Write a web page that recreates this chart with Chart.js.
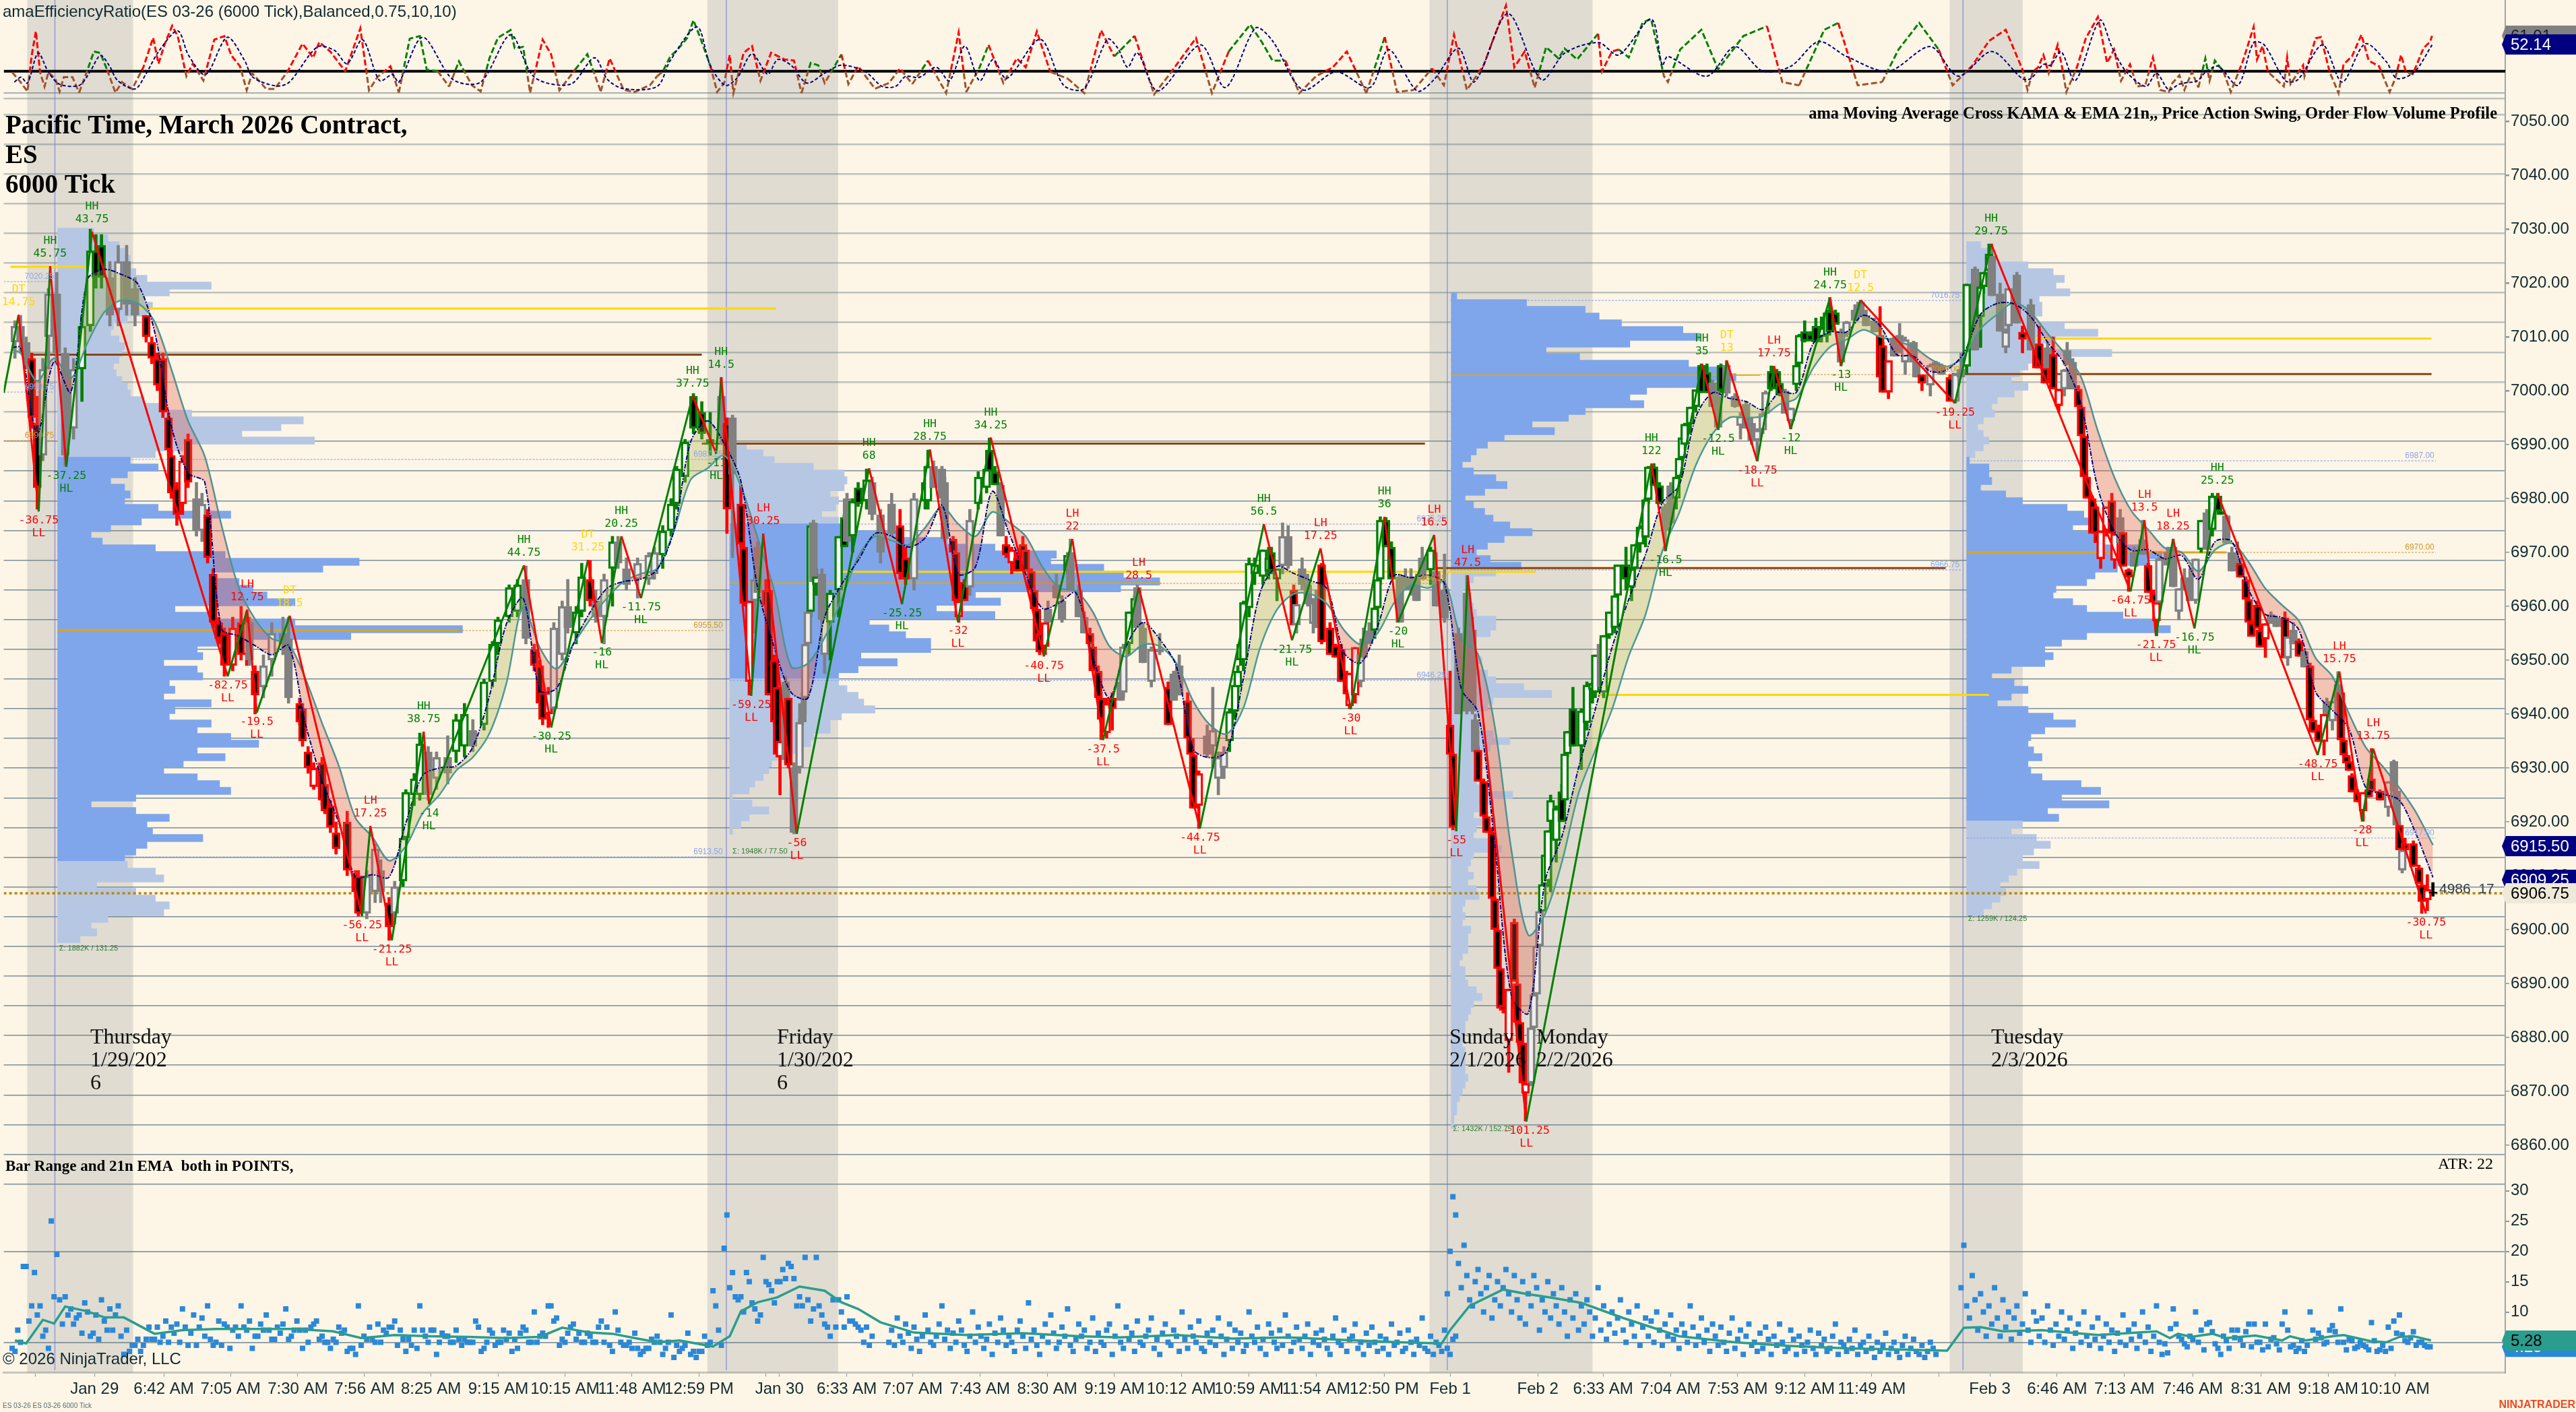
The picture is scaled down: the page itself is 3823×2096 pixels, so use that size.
<!DOCTYPE html>
<html>
<head>
<meta charset="utf-8">
<title>ES 03-26 6000 Tick</title>
<style>
html, body { margin: 0; padding: 0; background: #fdf5e6; }
canvas { display: block; }
</style>
<script src="https://cdn.jsdelivr.net/npm/chart.js@4"></script>
</head>
<body>
<canvas id="chart" width="3823" height="2096"></canvas>
<script>
// swing points, in chart bars and prices
const swingBars = [0,5.3,12.5,16.6,22.4,31.6,80.2,87.2,90.6,102.4,128.3,131.3,139,150.4,152.3,186.3,196.1,209.2,214.2,221.2,228.2,246.7,255.2,256.9,267.7,272,284,309.9,321.7,331.7,341.7,353.5,372.5,382.7,393.7,406.5,428.4,451.3,461.4,471.6,482.4,494.5,499.3,512.3,520.2,524.3,545.3,590.1,595.2,608.2,614,617.1,628,634,640,654.1,658,665,698.8,711.8,761.7,766.7,770.8,776.9,784.6,792.8,828.7,836.5,844.6,848.6,867.5];
const swingPrices = [6999.6,7014.1,6977.6,7023.1,6985.9,7029.5,6947,6959.4,6940.25,6958.25,6902.5,6919.25,6898,6936.75,6923.25,6967.6,6937.5,6968.6,6953.2,6973,6961.5,6999,6988.3,7002.5,6943.4,6973.5,6917.75,6985.6,6960.4,6989.1,6957.2,6991.3,6950.7,6972.5,6935.2,6963.45,6918.8,6975.25,6953.7,6970.75,6940.9,6976.6,6957,6973.25,6918.25,6965.75,6864.4,6986.5,6970.25,7005,6992.75,7005.6,6986.9,7004.6,6992.9,7017.3,7004.6,7016.8,6997.7,7027.25,6962.75,6976,6954.5,6972.5,6955.9,6981,6932.4,6947.9,6920.1,6933.6,6903];
const swingValues = ['','14.75','-36.75','45.75','-37.25','43.75','-82.75','12.75','-19.5','18.5','-56.25','17.25','-21.25','38.75','-14','44.75','-30.25','31.25','-16','20.25','-11.75','37.75','-11','14.5','-59.25','30.25','-56','68','-25.25','28.75','-32','34.25','-40.75','22','-37.5','28.5','-44.75','56.5','-21.75','17.25','-30','36','-20','16.5','-55','47.5','-101.25','122','-16.5','35','-12.5','13','-18.75','17.75','-12','24.75','-13','12.5','-19.25','29.75','-64.75','13.5','-21.75','18.25','-16.75','25.25','-48.75','15.75','-28','13.75','-30.75'];
const swingTags = ['','DT','LL','HH','HL','HH','LL','LH','LL','DT','LL','LH','LL','HH','HL','HH','HL','DT','HL','HH','HL','HH','HL','HH','LL','LH','LL','HH','HL','HH','LL','HH','LL','LH','LL','LH','LL','HH','HL','LH','LL','HH','HL','LH','LL','LH','LL','HH','HL','HH','HL','DT','LL','LH','HL','HH','HL','DT','LL','HH','LL','LH','LL','LH','HL','HH','LL','LH','LL','LH','LL'];

// candles: bar, open, high, low, close, trend (1 up, -1 down, 0 flat, 2 last)
const thuCandles = [[4,7009,7013,7006,7012,0],[6,7012,7014,7007,7009,0],[8,7009,7010,7004,7006,0],[10,7006,7007,6993,6995,-1],[12,6994,6999,6978,6982,-1],[14,6988,7006,6987,7004,0],[16,7010,7019,7004,7018,0],[19,7018,7022,7005,7007,0],[22,7007,7008,6986,6988,0],[25,6993,7006,6991,7004,0],[28,7004,7014,6998,7012,1],[31,7012,7030,7011,7026,1],[33,7026,7029,7019,7021,1],[35,7027,7029,7019,7021,1],[38,7021,7024,7012,7014,0],[41,7015,7027,7012,7024,0],[44,7024,7027,7014,7016,0],[47,7019,7021,7012,7014,0],[51,7014,7014,7009,7010,-1],[53,7009,7010,7005,7006,-1],[55,7006,7007,7000,7001,-1],[57,7006,7007,6995,6996,-1],[59,6995,6996,6988,6989,-1],[60,6988,6989,6980,6981,-1],[62,6982,6983,6975,6977,-1],[64,6979,6988,6977,6987,-1],[66,6991,6992,6982,6983,-1],[69,6980,6983,6973,6974,0],[71,6974,6981,6972,6979,0],[73,6977,6978,6968,6969,-1],[75,6966,6967,6956,6957,-1],[77,6957,6958,6953,6954,-1],[79,6955,6956,6947,6949,-1],[82,6949,6958,6948,6956,-1],[85,6957,6960,6950,6951,-1],[87,6951,6959,6949,6957,-1],[88,6957,6958,6949,6950,0],[90,6948,6949,6940,6943.5,-1],[93,6945,6951,6943,6949,0],[96,6950,6957,6947,6955,0],[100,6955,6958,6951,6953,0],[102,6954,6958,6942,6943,0],[106,6942,6943,6938,6938.5,-1],[107,6941,6942,6934,6935,-1],[109,6933,6934,6929,6930,-1],[111,6926.5,6931,6926,6930,-1],[114,6931,6932,6923,6924,-1],[115,6927,6928,6921.5,6922,-1],[117,6923,6924,6918,6919,-1],[119,6918,6920,6914,6915,-1],[123,6920,6922,6910,6911,-1],[126,6910.5,6911,6906,6907,-1],[127,6910,6911,6902.5,6903,-1],[130,6903,6911,6902,6910,0],[133,6907,6916,6905,6915,0],[135,6911,6913,6905,6907,0],[138,6905,6906,6898,6900.5,-1],[140,6903,6909,6901,6908,0],[143,6909,6917.5,6908,6917,1],[144,6917,6926,6916,6925.5,1],[147,6925,6929,6923,6928,1],[149,6925,6936.5,6924,6934.5,1],[152,6933,6934,6924,6925,0],[155,6928,6933,6926,6932,0],[159,6932,6936,6927,6929,0],[162,6933,6940,6931,6939,1],[165,6934,6942,6932,6940,1],[168,6937,6939,6933,6934,0],[172,6938,6946.5,6937,6946,1],[175,6946,6953.5,6945,6953,1],[177,6953,6958,6951,6957.5,1],[181,6958,6964,6957,6963.5,1],[184,6959,6965,6958,6964,1],[187,6965,6967.5,6953,6954,0],[190,6952,6953,6948,6949,-1],[192,6949,6950,6941,6942,-1],[193,6944,6945,6938,6939,-1],[195,6940,6945,6937.5,6944,-1],[197,6941,6957,6940,6956,0],[200,6951,6961,6950,6960,0],[202,6960,6965,6955,6956,0],[205,6955,6960,6953,6959,1],[207,6959,6968,6958,6965.5,1],[210,6965,6968.5,6960,6961,-1],[212,6961,6963,6957,6958,0],[215,6958,6966,6953,6965,0],[218,6967,6973,6960,6972,1],[220,6972,6973,6967,6968,0],[223,6967,6969,6963,6964,0],[227,6965,6969,6961.5,6968,0],[231,6965,6970,6964,6969.5,0],[233,6966,6971,6965,6970,0],[236,6969.5,6975,6967,6974,1],[239,6974,6980,6973,6979,1],[241,6979,6986,6978,6985.5,1],[244,6984,6991,6983,6990.5,1],[247,6999,6999.5,6992,6993,1],[250,6996,6998,6991,6992,1]];
const friCandles = [[253,6991,6996,6988,6990,1],[257,6999,7002.5,6990,6991,0],[259,6994,6995,6973.5,6978,-1],[261,6995,6995.5,6969,6984.5,0],[264,6979,6982.5,6971,6971.5,-1],[265,6971,6972,6960,6960.5,-1],[267,6946,6961,6943.5,6961,-1],[269,6961,6966,6955,6965,0],[270,6971,6972,6962,6962.5,0],[273,6963,6965,6959,6960,-1],[274,6963,6965,6943.5,6943.5,-1],[276,6950,6951,6938,6938.5,-1],[277,6945,6950,6932,6932.5,-1],[278,6932,6935,6925,6935,-1],[280,6946,6947,6931,6931.5,0],[281,6943,6944,6930,6930.5,-1],[283,6930,6931,6917.75,6918,0],[285,6930,6939,6929,6938.5,0],[286,6942,6944,6938,6938.5,0],[287,6943,6953,6940,6953,0],[288,6953,6959.5,6952,6959,0],[289,6959,6975.5,6958,6975,1],[290,6975.5,6976,6964,6964.5,0],[291,6964,6967,6962,6965.5,1],[293,6966,6967,6957,6957.5,0],[294,6951,6958,6947.5,6958,0],[296,6957,6963,6950,6962.5,1],[299,6963,6973,6958,6973,1],[301,6976.5,6977,6971,6971,1],[302,6980,6981,6971.5,6972,0],[304,6973,6980,6970,6979.5,1],[306,6982,6983,6978.5,6979,1],[309,6979.5,6985.5,6978,6983.5,1],[311,6983,6984,6976,6977,0],[314,6977,6978,6968,6970,0],[318,6979,6981,6973,6973.5,0],[321,6975,6978,6965,6966,-1],[323,6969,6971,6964,6965,-1],[326,6965,6981,6963,6980,0],[330,6979.5,6986,6978,6983,1],[331,6979.5,6989,6978,6986,1],[333,6986,6987,6982,6982,0],[336,6985.5,6986,6980,6980,0],[337,6983,6984,6972,6972.5,0],[340,6972.5,6973,6969.5,6970,-1],[341,6970,6971,6961,6961,-1],[342,6958,6961,6957,6961,-1],[344,6964.5,6965,6961,6961,-1],[346,6963.5,6978,6962,6976,0],[349,6979,6985,6978,6984,1],[352,6982,6986,6981,6985.5,1],[353,6989,6991.25,6985,6985,1],[355,6985,6986,6982.5,6982.5,1],[357,6982.5,6983,6973,6973,0],[359,6971.5,6973,6969,6969.5,-1],[361,6968,6971,6966,6970.5,-1],[363,6969,6970,6966.5,6966.5,-1],[365,6971.5,6973,6968,6968.5,-1],[366,6970.5,6971,6966.5,6966.5,-1],[368,6966.5,6967,6963,6963,-1],[369,6963,6964,6959.5,6959.5,-1],[370,6959.5,6960,6953.5,6953.5,-1],[371,6955,6956,6951,6951.5,-1],[373,6952.5,6957.5,6951,6957,-1],[374,6959.5,6961,6957,6957,0],[377,6964,6966,6961.5,6961.5,0],[379,6961,6962,6957,6957.5,0],[381,6966.6,6970,6966,6969.5,1],[382,6970,6972.5,6963,6963,0],[385,6963,6964,6958,6958,0],[387,6958,6959,6955,6955,0],[389,6955,6956,6953,6953,-1],[390,6952.5,6953,6948,6948,-1],[392,6948,6949,6943,6943,-1],[393,6943,6944,6935.25,6939,-1],[395,6936.5,6943,6935.5,6942,-1],[397,6943,6944,6937,6941,-1],[400,6946,6948,6942.5,6942.5,0],[401,6944,6953,6943,6952.5,0],[403,6953,6959,6951,6959,1],[405,6958,6962,6957,6961.5,1],[406,6963.5,6964,6956,6956,0],[408,6956,6957,6949.5,6949.5,0],[411,6946,6952.5,6945,6952,0],[414,6952,6955,6951,6951.5,0],[417,6945,6946,6938,6938,-1],[419,6947.5,6948,6942.5,6942.5,0],[421,6949,6951,6943.5,6943.5,0],[424,6942.5,6944,6935.5,6935.5,-1],[425,6935.5,6936,6932.5,6932.5,-1],[426,6932.5,6933,6922.5,6922.5,-1],[428,6923,6929.5,6918.75,6929,-1],[431,6936,6938,6932,6932.5,0],[433,6934,6945,6930,6937,0],[435,6928,6933,6925,6932,0],[437,6930,6934,6928,6933,0],[439,6935,6941,6933,6940.5,1],[441,6940.5,6946,6939,6945.4,1],[442,6945,6949,6944,6948,1],[443,6950,6953,6949,6953,1],[444,6950,6961,6948,6960.7,1],[446,6959.7,6969,6958,6968,1],[448,6966,6969,6964,6967.7,1],[451,6965.5,6970.5,6964,6970.5,1],[453,6966.5,6971,6965,6969,1],[454,6970,6971,6966,6966.5,1],[456,6965,6967,6961,6967,1],[458,6967.5,6975.5,6966,6973,0],[460,6973,6975,6967,6967.5,0],[462,6963,6964,6956.5,6956.5,-1],[463,6956.5,6961,6955,6960.4,0],[465,6967,6969,6963,6964,0],[467,6964,6966,6960,6960.4,0],[469,6956.8,6961.5,6955,6960.7,0],[470,6961,6963,6956,6956.8,0],[472,6967.7,6968,6953,6953.4,-1],[475,6956,6957,6951,6951,-1],[477,6952.7,6953,6950.5,6950.5,-1],[479,6952,6953,6946,6946,-1],[481,6947,6948,6943.7,6943.7,-1],[482,6941.5,6947.6,6941,6947.6,-1],[484,6943.5,6952.4,6942,6952.4,-1],[486,6946,6951,6945,6951,0],[487,6954,6956,6950.5,6950.5,0],[489,6955.5,6957,6953,6953,0],[491,6955.5,6960,6954,6959.7,1],[492,6959.7,6965,6958,6965,1],[493,6965,6976.6,6964,6976,1],[495,6976,6976.5,6971,6971,1],[497,6971,6972,6965,6965,1],[500,6965.5,6966,6957,6957,0],[502,6965.5,6967,6963,6964,0],[504,6965.5,6967,6962,6963,0],[506,6965,6966,6961,6961,0],[508,6969,6971,6965,6965,0],[511,6966.7,6971,6964,6970.5,1],[513,6966.5,6970,6960,6960,0],[514,6963,6966,6960,6960,0],[516,6963,6969.7,6957,6957.8,0]];
const sunCandles = [[518,6938,6948,6932,6932.5,-1],[519,6932.6,6933,6918.5,6919,-1],[521,6955,6956,6940,6940,0],[524,6962.5,6965.75,6940,6940.5,0],[526,6955.6,6958,6940,6940.5,0],[527,6939,6940,6932.6,6933,0],[528,6933.3,6934,6927.5,6927.5,-1],[530,6927.5,6928,6921,6921,-1],[531,6921,6922,6918,6918,-1],[533,6918,6919,6905.75,6905.75,-1],[534,6905.75,6906,6900,6900,-1],[535,6900,6901,6892.8,6892.8,-1],[536,6892.8,6893,6885.4,6885.4,-1],[537,6886,6887,6884.5,6885,-1],[539,6879.4,6889,6873.5,6889,-1],[541,6901.4,6902,6890.4,6890.4,-1],[542,6890,6891,6882.8,6882.8,-1],[543,6882.8,6883,6879,6879,-1],[544,6879,6879.5,6871.5,6871.5,-1],[545,6869.6,6871.5,6864.5,6871.5,-1],[547,6871.5,6882,6871,6881.8,0],[548,6881.8,6888,6881,6888,0],[549,6888,6897,6887,6897,0],[550,6897,6903.4,6896,6903.4,0],[551,6903.4,6908.4,6903,6908.4,1],[552,6908.4,6913.9,6908,6913.9,1],[553,6909,6918.4,6908,6918.4,1],[554,6920,6925,6907,6924,1],[556,6916.5,6923,6912.5,6922.5,1],[558,6925.6,6927,6920,6920,1],[559,6924,6932.6,6923,6932.6,1],[560,6932.6,6936.8,6932,6936.8,1],[562,6941,6945,6934,6934,1],[565,6934,6941,6929.7,6940.6,1],[567,6938.4,6946,6937,6945.4,1],[569,6944.5,6946,6942,6945.7,1],[570,6944,6951,6943,6951,1],[572,6953,6954,6945,6945,0],[573,6944,6954.6,6943,6954.6,1],[575,6954.6,6959,6954,6959,1],[577,6956,6962,6955,6962,1],[578,6962,6967.7,6961,6967.7,1],[581,6967.7,6971,6963,6965,1],[583,6963.5,6967,6961,6967,1],[584,6967,6971.5,6965,6971.5,1],[586,6971.5,6975,6970,6974.7,1],[588,6972.8,6979.8,6971,6979.8,1],[589,6979.8,6986,6979,6985.9,1],[591,6985.9,6986.5,6982.4,6982.4,1],[593,6982.4,6983,6979,6979,1],[595,6978.5,6979,6970.25,6974,0],[597,6982.4,6983,6975,6975.4,0],[599,6980,6984,6978,6984,1],[600,6984,6987.5,6982,6987.5,1],[601,6987.5,6991,6986,6991.3,1],[602,6990,6994,6989,6993.8,1],[604,6993.8,6997,6992,6997,1],[606,6997,7000.2,6996,7000.2,1],[608,7004.7,7005,6999.6,6999.6,1],[610,7003.4,7005,6999.6,6999.6,1],[612,7001.5,7002,6997,6997,0],[614,6999,7000,6992.75,6993.2,0],[615,7004.7,7005,6999.6,7000,1],[617,7004.75,7005.6,6999,6999.5,0],[620,6999,6999.5,6996.9,6997,0],[622,6993.5,6996,6991,6995.3,0],[624,6997.5,6998,6993,6993,0],[626,6994,6995,6990,6990.8,0],[628,6990.8,6993,6987,6992.7,0],[630,6992.7,6996,6992,6995.8,0],[631,6995.8,7000,6995,6999.7,0],[633,7003.6,7004.6,7000,7000.3,1],[635,7003.6,7004,7000.3,7000.3,1],[636,7001.4,7002,6999,6999.2,1],[638,7000,7000.3,6995.8,6995.8,0],[640,6994.4,6996.8,6992.9,6996.8,0],[642,7001.1,7006.7,7000,7004.75,1],[643,7005,7010.5,7004,7010.3,1],[645,7011,7013,7009,7009.2,1],[647,7010.6,7011,7009.2,7009.2,1],[649,7012,7013.5,7009,7009,1],[651,7010,7013.7,7009,7011.7,1],[653,7010.3,7015,7009,7014.5,1],[654,7014.8,7017.3,7011,7010.9,1],[656,7014.5,7015,7012.3,7012.3,1],[658,7011,7011.5,7004.6,7005.3,0],[660,7010.4,7012.9,7010,7012.8,0],[663,7015,7016,7013,7013,0],[665,7016.5,7016.8,7013.7,7013.7,0],[667,7014,7015,7012,7012,0],[670,7013,7013.5,7010.9,7010.9,0],[672,7010.3,7015.6,7002.5,7002.5,-1],[673,7008.4,7009,6999.7,6999.7,-1],[675,6999.7,7005.6,6998.5,7005.6,-1],[677,7009.8,7010,7006.4,7006.4,0],[679,7010.3,7012.5,7007,7007,0],[681,7005.3,7010,7003,7009.5,0],[684,7009,7009.2,7005.3,7005.3,0],[685,7005.3,7005.5,7002.5,7002.5,0],[687,7003,7003,7000,7001.4,-1],[690,7001,7005,6999,7004.75,0],[692,7005.3,7005.5,7003.6,7003.6,0],[694,7004.75,7005,7003,7003,0],[697,7002.5,7003,6998,6998,-1],[699,6998,7003.2,6997.7,7003.1,0]];
const tueCandles = [[701,7004,7007,7002.5,7002.5,0],[703,7004.5,7019.8,7003,7019.8,1],[706,7022.6,7023,7007.5,7007.5,0],[708,7013.7,7020,7008,7019.3,1],[709,7019.3,7022,7018,7022,1],[711,7022.3,7027.25,7021,7025.4,1],[712,7025,7027.25,7017.6,7017.6,0],[715,7018,7020,7011,7011,0],[717,7008,7011.5,7007,7011,0],[718,7012,7019,7011,7019,0],[721,7021.5,7022,7012.5,7012.5,0],[723,7010.9,7012,7007,7009.5,-1],[726,7016,7017,7007.5,7007.5,0],[728,7007.5,7008,7004.2,7004.2,-1],[729,7008.7,7012,7004.2,7004.2,-1],[731,7004.2,7005,7001.4,7001.4,-1],[732,7008,7009,7004.2,7004.2,0],[734,7006.7,7010,7000.3,7000.3,-1],[736,6997.2,7000.3,6996,7000.3,-1],[738,7000.3,7004,6999,7003.9,0],[739,7007.5,7009,7004.75,7004.75,0],[741,7005.3,7006,7000.3,7000.3,0],[743,7000.3,7001,6997,6997,-1],[744,6997,6997.5,6991.6,6991.6,-1],[745,6991.6,6992,6984,6984,-1],[746,6984,6984.5,6980,6980,-1],[748,6980,6980.5,6973.5,6973.5,-1],[749,6978.5,6979,6973.5,6973.5,-1],[750,6973.5,6974,6971.8,6971.8,-1],[751,6968.8,6974,6967,6974,-1],[753,6974,6978.5,6973,6978.5,-1],[755,6979.6,6981,6973.5,6973.5,-1],[756,6968.5,6973.5,6967,6973.5,-1],[758,6976.5,6978,6971.8,6971.8,0],[759,6973.7,6974,6967.4,6967.4,-1],[761,6966.8,6967,6962.75,6965.4,-1],[763,6970,6971,6967.4,6967.4,0],[766,6972.4,6976,6969.6,6969.6,0],[768,6967.6,6968,6962.5,6962.5,-1],[770,6962.5,6963,6960.7,6960.7,-1],[771,6957.3,6960.7,6954.5,6960.7,-1],[772,6960.7,6969,6960,6968.8,0],[775,6970,6971,6967.6,6967.6,0],[777,6971,6972.5,6963.6,6963.6,0],[779,6959,6963.3,6957.5,6963.3,0],[781,6965.3,6967,6963,6963,0],[783,6965.3,6967,6961,6961,0],[785,6961,6968.8,6960.5,6968.8,0],[787,6970.5,6976,6970,6976,1],[789,6977.4,6978,6970.5,6970.5,0],[791,6974.2,6981,6973,6980.5,1],[793,6980.5,6981,6977.6,6977.6,1],[794,6977.6,6978,6977,6977,1],[796,6976.8,6977,6971.7,6971.7,0],[798,6970,6971,6966.5,6966.5,0],[800,6968.8,6972,6966,6966.5,0],[801,6968,6969,6965.4,6965.4,-1],[803,6965,6965.5,6961.3,6961.3,-1],[804,6961.3,6962,6957,6957,-1],[805,6957,6957.5,6954.4,6954.4,-1],[807,6960.2,6961,6955.9,6955.9,-1],[808,6955.6,6956,6952.4,6952.4,-1],[810,6953.9,6956.8,6950.5,6956.8,-1],[812,6958.5,6959,6956.8,6956.8,0],[814,6957.9,6958,6956.2,6956.2,0],[817,6957.9,6959,6950.4,6950.4,-1],[818,6950.4,6954.4,6949,6954.4,0],[820,6955.6,6957,6953,6953,0],[822,6953.6,6954,6950.7,6950.7,-1],[824,6951.6,6952,6948.7,6948.7,0],[826,6949,6949.5,6938.9,6938.9,-1],[827,6938.9,6939.5,6936.6,6936.6,-1],[829,6937.2,6938,6934.9,6934.9,-1],[831,6934.9,6940,6932.4,6940,-1],[832,6942.1,6943,6940,6940,0],[834,6938.7,6942.4,6937,6942.4,0],[836,6945.5,6947.9,6942.4,6942.4,0],[837,6944,6945,6935.2,6935.2,-1],[838,6935.2,6935.5,6932.4,6932.4,-1],[839,6932.4,6933,6930.9,6930.9,-1],[840,6931.2,6932,6929.5,6929.5,-1],[841,6928.6,6929,6925.5,6925.5,-1],[843,6925.5,6926,6923.7,6923.7,-1],[845,6922,6925.5,6920.1,6925.5,-1],[847,6926,6926.5,6924.6,6924.6,-1],[848,6928,6933.6,6925.7,6925.7,-1],[851,6925.7,6926,6924,6924,-1],[854,6922.6,6927.5,6921,6927.5,0],[856,6931.2,6931.5,6925.7,6925.7,0],[857,6925.7,6926,6919.4,6919.4,0],[858,6919.4,6920,6914.8,6914.8,-1],[859,6911,6914.8,6910.5,6914.8,0],[860,6916,6917,6914.8,6914.8,-1],[863,6916,6916.5,6911.7,6911.7,-1],[865,6911.5,6912,6908.5,6908.5,-1],[866,6908.3,6908.5,6903,6905.2,-1],[868,6905.5,6910.2,6903.5,6907.5,-1],[870,6907,6908.75,6906.2,6906.75,2]];

// moving averages on the price panel
const maBars = [3,6,12,18,24,30,36,42,48,54,60,66,72,78,84,90,96,102,108,114,120,126,132,138,144,150,156,162,168,174,180,186,192,198,204,210,216,222,228,234,240,246,252,258,264,270,276,282,288,294,300,306,312,318,324,330,336,342,348,354,360,366,372,378,384,390,396,402,408,414,420,426,432,438,444,450,456,462,468,474,480,486,492,498,504,510,516,522,528,534,540,546,552,558,564,570,576,582,588,594,600,606,612,618,624,630,636,642,648,654,660,666,672,678,684,690,696,702,708,714,720,726,732,738,744,750,756,762,768,774,780,786,792,798,804,810,816,822,828,834,840,846,852,858,864,870];
const emaValues = [7007.6,7007,7001.8,7006,7002.3,7008.9,7014.6,7016.8,7016.3,7012.8,7004,6994.4,6987.8,6975,6963.7,6957.6,6954,6953,6946.6,6938.3,6930.4,6920.7,6917.2,6912.8,6915.5,6921.6,6925,6929.5,6932,6936.5,6945.7,6960,6952.3,6948.4,6953,6957.6,6961.5,6964.6,6966,6967,6974,6983.5,6985.6,6988,6982.25,6972.7,6962.8,6948.8,6949.4,6954.2,6961.2,6969.2,6973,6972.2,6971.4,6974.6,6978.4,6975.2,6973,6977.5,6975.6,6973,6967.3,6963.4,6962.8,6959,6952.6,6950.7,6952.9,6952.6,6949.4,6942.4,6938,6936.3,6941.2,6952.4,6959.4,6962.3,6962.3,6960.4,6955.6,6952.9,6955,6960.7,6964,6963.4,6964.5,6954,6951.1,6937.7,6914.6,6899,6902.9,6912.5,6925.3,6933.3,6940.9,6950.8,6958.5,6970.25,6977.3,6986.2,6992,6995,6995,6995.3,6997.5,6998.6,7004.2,7008.1,7009.5,7011.3,7010,7009.2,7008.1,7005.9,7004.5,7006.4,7011.5,7014.2,7016.4,7014.5,7010.6,7007,7002.5,6992.5,6983.8,6977.7,6974.25,6970.8,6970,6966.5,6970.5,6971.7,6968.2,6963.3,6960.2,6957.3,6950.4,6947,6940,6933.8,6930.3,6926.3,6921.7,6915.7];
const kamaValues = [7008,7008,6992,7005.4,6999.7,7020.7,7022.5,7021.6,7019.8,7011,6993.5,6984.75,6983,6955.8,6954.5,6952.7,6951,6952.7,6938.3,6927.7,6919.8,6909.75,6910.2,6909.75,6919.8,6928.6,6930,6930.4,6933.9,6943.5,6956.7,6961.5,6944.4,6944.8,6953,6958.9,6963.3,6964.6,6965,6966.8,6974,6990.5,6994.4,6990.2,6983.2,6963.4,6952.3,6944,6943,6958,6964,6968.5,6973.5,6973,6971,6972.7,6978.75,6966,6967.3,6981.3,6973.6,6966,6959.6,6960.6,6962.5,6950.7,6943,6952.6,6957,6953.9,6948.8,6933.5,6931.9,6933.1,6946.7,6962.6,6967.4,6966.1,6964.8,6963.2,6951.4,6949.5,6956.2,6965.7,6965.3,6965.8,6964.2,6944.7,6940.3,6915.8,6887.6,6884.5,6909,6917.2,6930,6940.9,6952.4,6961.3,6969.6,6979.2,6982.4,6995.1,6999.6,6998.6,6998,6996.5,6999.7,6999.7,7008.7,7010.9,7010.9,7014,7012,7006.7,7006.4,7003.6,7003.9,7007,7014.2,7016.2,7016.1,7013.7,7009,7005,6997.5,6981.9,6973.8,6970.4,6970.5,6968.8,6969.4,6965,6972,6972,6963,6958.5,6957.9,6955.6,6944.1,6940.7,6937.2,6926.3,6925.2,6924,6917.7,6909.7];

// volume profile lengths, one row per 1.25 points from the top price down
const thuProfile = [13,18,22,24,26,26,28,32,55,40,31,34,32,25,20,19,22,24,23,22,20,21,23,25,26,31,37,48,88,80,66,92,45,35,26,36,25,19,24,26,24,36,62,30,19,12,16,35,60,108,95,55,65,70,75,85,42,55,85,145,105,58,50,52,38,50,52,40,42,38,55,42,40,55,50,62,72,50,60,45,38,50,58,62,28,12,28,40,32,34,52,32,28,24,25,35,38,14,28,35,40,38,18,12,14,8];
const friProfile = [6,12,16,30,41,42,41,36,39,38,33,39,44,60,78,95,117,115,134,141,154,140,88,97,74,95,50,57,63,72,72,47,60,46,39,39,42,46,48,52,40,36,36,30,29,24,18,15,14,12,9,7,1,8,14,7,4,1];
const sunProfile = [2,27,48,53,61,83,89,64,34,46,85,96,102,93,70,64,69,48,42,29,37,19,13,9,7,4,8,16,20,12,5,8,12,15,21,29,19,13,9,14,25,16,8,5,4,5,8,9,16,16,14,9,8,9,11,9,13,16,26,36,15,13,10,8,9,15,21,14,9,8,8,8,9,11,22,15,10,8,11,9,8,14,18,8,7,6,8,6,9,10,5,4,5,4,7,6,6,6,4,3,5,5,6,9,11,8,7,6,5,5,4,4,5,5,5,5,6,5,4,3,2,2,1,1];
const tueProfile = [5,8,11,22,31,35,32,37,26,27,27,23,35,47,32,26,52,30,22,19,16,22,17,11,9,10,6,4,6,8,6,3,1,8,8,9,5,14,20,36,42,45,38,46,47,65,70,65,54,46,43,32,31,38,43,56,67,73,43,34,28,31,28,16,9,17,22,16,11,22,31,39,28,23,22,24,27,22,23,27,41,48,34,51,29,33,20,16,25,30,24,20,26,18,15,12,14,12,9,6];
const profileStartBars = [19.3, 260, 518.4, 703];
const profileTopPrices = [7029.5, 6989.6, 7017.5, 7027];
const valueHighs = [6987.4, 6975.2, 7017.5, 6987.2];
const valueLows = [6913.25, 6946.2, 6967, 6920];

// horizontal levels: start bar, end bar, price
const goldLevels = [[2.4,31.6,7023],[47.2,276.6,7015.25],[300,548.7,6966.4],[571,711,6943.55],[723.5,869.5,7009.7]];
const brownLevels = [[6.5,250,7006.7],[250,509,6990.2],[509.6,695.5,6967.1],[697.7,869.5,7003.1]];
const pocLevels = [[19.3,163,6955.6],[260,414.4,6964.3],[518.4,629,7002.9],[703,796,6970]];
const valueLevels = [[0,18,7020.25],[0,18,6999.75],[19.3,258,6987.25],[19.3,258,6913.5],[260,517,6975.25],[260,517,6946.25],[518,701,7016.75],[518,701,6966.75],[703,871,6987],[703,871,6917]];
const pocThinLevels = [[0,18,6990.75],[163,258,6955.5],[414,517,6964.25],[629,701,7003],[796,871,6970]];
const levelTexts = [[18,7020.25,'7020.25'],[18,6999.75,'6999.75'],[257.5,6987.25,'6987.25'],[257.5,6913.5,'6913.50'],[516.5,6975.25,'6975.25'],[516.5,6946.25,'6946.25'],[700.5,7016.75,'7016.75'],[700.5,6966.75,'6966.75'],[870.5,6987,'6987.00'],[870.5,6917,'6917.00']];
const pocTexts = [[18,6990.75,'6990.75'],[257.5,6955.5,'6955.50'],[516.5,6964.25,'6964.25'],[700.5,7003,'7003.00'],[870.5,6970,'6970.00']];
const sigmaTexts = [[19.8,6896.5,'Σ: 1882K / 131.25'],[261,6914.5,'Σ: 1948K / 77.50'],[519,6863,'Σ: 1432K / 152.75'],[703.5,6902,'Σ: 1259K / 124.25']];

// efficiency ratio panel: bar, value
const erFast = [[3,24],[6,14],[8.5,4.5],[10,41],[11.5,65.5],[13,24],[14.6,9.4],[16,24],[18.5,17],[20,4.5],[21.5,19],[24.6,19],[27,3.3],[30,26.5],[32.3,45],[34.6,43.5],[37,26.5],[40,3.3],[42.3,14],[46,7],[50,29],[53.5,59],[55.4,32.6],[57.7,53],[60.3,71],[62.3,60.6],[65.4,20],[67.7,32.6],[71.5,15.5],[75.4,57],[79,60.6],[81.5,41],[84.6,30],[87,5.7],[89,23],[94,7],[97,7],[101.5,24],[107,53],[110.8,38.7],[113,54.5],[117,44.7],[122.3,25],[127.7,68.4],[130.8,5.7],[133.8,19],[138.5,30],[141.5,3.3],[145.4,58],[149,60.6],[151.5,26.5],[155.4,25],[159.5,9.4],[163,35],[167.7,10.6],[170.8,4.5],[174,38.7],[177,59],[181.5,66.7],[183,48.4],[186,49.6],[188.5,3.3],[193,57],[196,42.3],[199,5.7],[204.6,26.5],[209,42.3],[213.8,4.5],[217,38],[222,6],[226,4],[231.5,11],[234,20],[236,24.5],[238.7,40],[241,46],[244.7,58.5],[247,76.7],[249.5,58.5],[253,31],[255.5,4],[258,13],[260,41.5],[261.3,2.8],[265,43.7],[268,50.5],[271,15.3],[274.8,43.7],[279.6,37],[283,35.8],[285.7,2.8],[289,33.5],[291.7,31],[294,13],[300,42],[302.5,12],[306,30],[312,7.3],[317,13],[321,27.8],[325.4,12],[331,35.8],[337.5,2.8],[342,64.2],[344.7,3.9],[349.5,29],[352.7,51.7],[358,13],[362.8,38],[366,29],[370,65.3],[374.8,24.4],[381,17.6],[387,2.8],[393,66.5],[397.7,40],[405,60.8],[412,1.6],[417,20],[427,58.5],[432.7,2.8],[438.7,45],[446.4,72.2],[450.7,54],[454.4,35.8],[459,35.8],[464,2.8],[470,20],[476,29],[481,45],[488,2.8],[494.6,59.7],[499,3.9],[505,6],[511.5,27.8],[515.8,10.7],[519.4,62],[524,6],[530,31],[538,91.5],[541,29],[544.7,45],[548.3,8.5],[552.4,49.4],[556.8,38],[559,48],[563.5,37],[571,63],[572.4,24.8],[576,45],[578.4,47],[582,39],[587,74.4],[590,77.9],[594.6,20],[596,14],[600.4,47],[608,67],[614,27],[623,60.6],[631.5,70.6],[637,14],[643,10.7],[652,67],[657,74],[664,10.7],[672.7,14],[678.6,47],[686,74],[693,47],[698,10.7],[705,30.6],[711,55.6],[717,67],[723,26.7],[724.8,6],[726.7,24.4],[728.6,29],[730.5,41.5],[732.4,23],[735.6,51.7],[737.5,24.4],[738.7,3.9],[742.5,29],[745.7,58.5],[750,80],[753.3,33.5],[755.8,47],[758.3,15.3],[761.5,32],[764,9.6],[767,10.8],[769.7,39],[772.3,6],[775.4,3.9],[776.7,13],[779.2,21],[781,6],[783.7,24.4],[786,8.5],[788.5,38],[790,15.3],[791.9,35.8],[795,24.4],[797.6,3.9],[802,35.8],[805.8,70],[807,36.9],[809,50.5],[810.9,24.4],[816.6,9.6],[817.8,39],[819,12],[823.5,31.2],[824,20],[828,58.5],[829.9,59.7],[831.8,38],[833,24.4],[836.2,2.8],[838,32],[841,40],[844.4,62],[847,35.8],[850.7,30],[854.5,3.9],[856.5,17.6],[858.6,41.5],[860.3,24.4],[862.8,22],[866.6,48.3],[869,55],[869.7,60.8]];
const erSlow = [[3.8,14],[6.2,19],[8.5,13],[12.3,43.5],[16,24],[20,11.8],[27,10.6],[30.8,24],[34.6,41],[37.7,31],[40.8,15.5],[47,7],[50.8,21.6],[55.4,44.7],[62.3,66],[66.2,41],[72.3,21.6],[80,59.4],[86.2,36.2],[89.2,19],[97.7,10],[102.3,14],[112.3,49.6],[118.5,46],[123,32.6],[128.5,57],[134.6,15.5],[139.2,21.6],[141.5,14],[150,59.4],[160.8,16.7],[170.8,14],[181.5,61.8],[190,19],[203,11.8],[211.5,38.7],[216.2,16.7],[222,7.3],[234,9.6],[238.7,35.8],[248.3,69.9],[253,31],[258.4,10.7],[262.8,18.7],[268,42.6],[273.6,22],[277.2,36.9],[282,31],[287.6,13],[294,23],[300,31.2],[308.6,24.4],[314.6,9.6],[319.4,9.6],[323,19.8],[327.8,18.7],[334,29],[338.7,15.3],[344.2,50.5],[349.5,15.3],[354.3,36.9],[359.2,17.6],[371.2,57.4],[379.6,10.7],[386.9,7.3],[395.3,57.4],[399,48.3],[402.5,29],[406,43.7],[413.4,5],[428.6,51.7],[437.5,8.5],[448.3,68.8],[454.3,56.2],[465.2,6.2],[477.2,24.4],[489.3,8.5],[496,47],[506.2,5],[512.2,16.4],[521,48.3],[526.7,14.2],[538.7,83.5],[550.7,16.4],[559.2,43.7],[571.2,54],[578.4,41.5],[590,77.9],[594,31],[596,40],[610,20],[620,50],[630,25],[640,30],[650,55],[660,40],[675,25],[690,50],[700,20],[712,45],[722.9,17.6],[726,17.6],[730.5,32],[733,31],[736.8,44.9],[741.9,15.3],[750.7,76.7],[755.2,48.3],[760.2,24.4],[767.2,9.6],[771,23],[775.4,6.2],[779.2,12],[785.6,15.3],[788.7,24.4],[793.2,30],[800.1,10.7],[805.8,54],[809.6,51.7],[817.2,15.3],[821.6,16.4],[830.5,51.7],[837.5,14],[845.7,52.8],[853.3,34.6],[857.1,17.6],[863.4,24.4],[869.7,51.7]];
const erGreenRanges = [[30,37],[142,157],[163,175],[174,189],[205,215],[236,253],[288,301],[330,335],[349,356],[380,382],[401,406],[440,459],[489,498],[510,513],[550,572],[582,615],[620,636],[650,660],[675,693],[787,796]];
const erBaseLine = 25;

// bar range panel: one value per bar from the start bar of each list
const rangeStartBars = [3, 317, 517, 701, 771];
const rangeThuFri = [4,3.5,7,5,17.5,17.5,8.5,11,16.5,9.5,11,6,7,4,25,12.5,19.5,12,8,12.5,9.5,10.5,8,9,9.5,6.5,11.5,10,6,6.5,9.5,5.5,12,8.5,7,10.5,7,9.5,11,6,3,7,3.5,4.5,4.5,5.5,3.5,4.5,5.5,7.5,5.5,5.5,7.5,5,6,8.5,5,7.5,6.5,8,5,10.5,7.5,4.5,6.5,9.5,4.5,7.5,9,6,11,5.5,4.5,5,8.5,4.5,8,7.5,4,7,7.5,6,11,7.5,7,8.5,4,6,6,8,7,9.5,7,5.5,5.5,7.5,6.5,8,10.5,5.5,6,7,8.5,7,4,7,5,7.5,8,8.5,5.5,6,5,5,4,5.5,5,7.5,6.5,7,3.5,4,4,3,11,4.5,6,5.5,7.5,5.5,5,8,5,7,6.5,7.5,7.5,8.5,4.5,7,5.5,3.5,5.5,4.5,7,4,11,7,6,5,7,7,3,5,6.5,6,6,5,5,7,5.5,4.5,5.5,5,5,5,8.5,7.5,3.5,4,5,7,6.5,4.5,5,5,7,5.5,6.5,3.5,5.5,4,6.5,7.5,7,5,5,10,5,6,6.5,6,11,11,8.5,9,4.5,5.5,5,6.5,7.5,8,5.5,6.5,5,5,6.5,6,5,5,7.5,8.5,5,7.5,4.5,3.5,10,7,5,4.5,4.5,5,4,6.5,4,3,3.5,4,4,5.5,5,6,5,3,4,5,9.5,2.5,4.5,3.5,4,4.5,6.5,3,3.5,2.5,3.5,3.5,6,4.5,5,13.5,11,7,4.5,20.5,26,14,16.5,12.5,12,12.5,10,16.5,15,11.5,10.5,8.5,9.5,19,15,14.5,13.5,11.5,15,15,17,15.5,18,17.5,15.5,11,12.5,11,19,12,8.5,10.5,19,11,9.5,8,7.5,6,12,7.5,12,10,7.5,12.5,8.5,8.5,8,7.5,7,5,7.5,4.5,6];
const rangeFri = [5,7,4.5,9,6,5,8,6.5,4,7.5,5.5,3.5,6,9.5,7,5,4.5,6,8,11,5.5,7,4,6.5,5,8.5,7,4.5,3.5,6,10,5,7.5,6,4,5.5,8,3,6.5,5,9,7,4.5,6,5,3.5,7,8.5,6,4,11.5,5.5,7,4.5,3,6,8,5,9.5,6.5,4,5,7.5,6,10.5,4.5,3.5,5.5,8,6,7,4,5,9,3.5,6.5,5,4.5,7,8,3,6,11,5,4,7.5,5.5,6.5,3.5,8.5,5,4.5,6,7,9,4,5.5,3,6.5,8,5,4.5,7,6,3.5,10,5.5,4,7.5,6,5,8.5,4,3.5,6.5,5,7,4.5,9,6,3,5.5,8,4,7,5,6.5,3.5,4.5,10,6,5,7.5,4,5.5,3,8,6.5,5,4,7,4.5,9.5,6,3.5,5,7.5,5.5,4,6,8,3,5,6.5,4.5,7,5.5,4,3,6,9,5,4.5,7,3.5,5.5,6,8,4,5,3,6.5,4.5,7.5,5,3.5,6,4,5.5,3,8,4.5,5,6.5,3.5,4,7,5,3,5.5,4.5,9,4,3.5,6,3,5,4.5,3.5,7,4,3,5.5,6];
const rangeSunMon = [13,20,29,26,18,14,21,16,12,11,15,17,13,10,14,16,9,12,15,11,14,17,13,10,16,12,9,15,8,13,11,16,14,7,12,10,15,9,13,11,8,14,10,6,12,9,13,7,11,8,12,10,6,9,14,7,11,5.5,8,10,6.5,9,12,7,5,10,8,6,11,4.5,7.5,9,6,8.5,5,10,7,4.5,8,6,9.5,5.5,7,4,8,6.5,5,11,7.5,4.5,6,9,5,7,3.5,8,6,4.5,7.5,5,3.5,6.5,9,4,5.5,7,3,6,8,4.5,5,3.5,6.5,4,7.5,5.5,3,6,4.5,8,5,3.5,4,7,5.5,3,6,4.5,3.5,5,7,4,3,6.5,4.5,5.5,3.5,4,6,8,3,5,4.5,3.5,5.5,4,7,3,4.5,5,3.5,6,4,2.5,5,3.5,4.5,6.5,3,4,5,3.5,2.5,4.5,6,3,4,5.5,3.5,3,4.5,2.5,3.5,5,4,3];
const rangeTue = [14,21,11,9,16,12,7,13,10,6,11,8,14,9,6,12,7.5,10,5.5,9,11,6.5,8,13,7,5,10,8.5,6,9,5,11,7,4.5,8,6,10,5.5,7,9,4,6.5,8,5,10,6,4.5,7.5,5.5,9,4,6,8,5,7,3.5,6.5,5,9.5,4.5,7,5.5,8,4,6,10,5,7.5,3.5,6];
const rangeTueLate = [11,5,3,4.75,3.25,7.25,10.5,8,6,5.5,4.75,4.25,6,5.5,10,5,7,3.75,8,8.25,6.75,4.75,4,3,6,5.25,4,7,5.75,7,5.5,4.5,6.75,8,4.25,8,5,5,3.75,8,4.25,5.5,5.75,4.75,3.75,8,10,7,4.25,4.5,3.5,4,5.25,3.5,4.5,10,7,5.5,6.5,5.75,4.75,5,7,7.75,6.75,5,10.5,5,3.75,5.5,5.25,4,4.25,5,4.5,4.25,3.75,8.25,5.25,3.5,3.75,4.5,3.5,7.5,4,8.5,6.5,9.5,6.25,5.25,5,5.75,6.75,4.5,5,5,4.5,4.25,4.25];
const rangeEmaBars = [4,8,14,18,22,30,36,43,54,64,76,90,104,118,128,140,152,166,180,192,200,210,218,226,234,242,254,260,264,270,277,285,294,300,306,314,326,345,365,385,400,420,440,460,480,500,515,518,525,537,545,555,565,580,590,600,620,640,660,680,696,702,708,716,730,750,771,775.8,778.7,783.4,791,796,806.4,816,818.8,824.6,834,838,847.6,853.3,858,863,869.3];
const rangeEmaValues = [5.3,4.8,8.7,8.1,10.9,10.1,9.1,9.1,6.4,7,7.2,7.2,7.2,6.8,5.7,6.2,6,5.9,5.7,5.9,7.4,6.6,6.4,5.7,5,5.3,4.3,6,10.1,11.6,12.4,14.2,13.5,11.6,10.5,8.3,6.6,6.2,6.5,6,5.8,6.2,5.6,5.8,5.4,5,4.8,7,11,13.7,13,12.3,11.5,9,7.5,6,5,4.4,4,3.8,3.6,7.4,7.5,6.8,7,6.2,6.8,5.7,6.4,5.9,6.4,5.7,6.1,5.3,6,5.3,6,6.2,5.2,5,5.9,6,5.3];

// axis ticks
const xTickBars = [11.3,32.5,57.3,81.2,105.3,129.2,153,177.1,201,225,249,273,277.8,301.9,325.5,349.6,373.7,397.8,421.7,446,470,494.4,518,549.4,572.8,596.9,621,645,669,693,711.3,735.4,759.5,784,808.4,832.5,856.4];
const xTickLabels = ['','Jan 29','6:42 AM','7:05 AM','7:30 AM','7:56 AM','8:25 AM','9:15 AM','10:15 AM','11:48 AM','12:59 PM','','Jan 30','6:33 AM','7:07 AM','7:43 AM','8:30 AM','9:19 AM','10:12 AM','10:59 AM','11:54 AM','12:50 PM','Feb 1','Feb 2','6:33 AM','7:04 AM','7:53 AM','9:12 AM','11:49 AM','','Feb 3','6:46 AM','7:13 AM','7:46 AM','8:31 AM','9:18 AM','10:10 AM'];
const priceLabels = [7050,7040,7030,7020,7010,7000,6990,6980,6970,6960,6950,6940,6930,6920,6910,6900,6890,6880,6870,6860];
const rangeLabels = [30,25,20,15,10,5];
const rangeGrid = [20,5];
const sessionBandStarts = [8.4,252,510.6,696.9];
const sessionBandEnds = [46.3,298.8,569,723.1];
const sessionLines = [18.3,258.8,517,701.7];

// price tags on the right edge, drawn in this order
const erTags = [[61.01,'#808080','#202020'],[52.14,'#000080','#ffffff']];
const priceTags = [[6915.5,'#000080','#ffffff'],[6909.25,'#000080','#ffffff'],[6906.75,'#efe9d9','#000000']];
const rangeTags = [[4.25,'#2b88d8','#ffffff'],[5.28,'#2a9d8f','#000000']];
const lastPrice = 6906.75;

const AXIS_X = 3718;
const PLOT_BOTTOM = 2037.5;
const ER_BOTTOM = 146;
const PRICE_BOTTOM = 1760;
const BAR_MAX = AXIS_X / 4.15;
const SANS = '"Liberation Sans", Arial, sans-serif';
const SERIF = '"Liberation Serif", "Times New Roman", serif';
const MONO = '"DejaVu Sans Mono", monospace';

// price gridlines sit 5.51 points apart and do not line up with the labels
const priceGrid = [7054.25];
for (let i = 0; i < 37; i++) {
    priceGrid.push(7051.25 - i * 5.5125);
}

const toneColors = { '1': '#008000', '-1': '#ff0000', '0': '#808080', '2': '#000000' };
const candles = [...thuCandles, ...friCandles, ...sunCandles, ...tueCandles];
const isGreenBar = (bar) => erGreenRanges.some(([from, to]) => bar >= from && bar <= to);

const levelDataset = (level, color, width, dash, order) => ({
    type: 'line',
    yAxisID: 'yPrice',
    data: [{ x: level[0], y: level[2] }, { x: level[1], y: level[2] }],
    borderColor: color,
    borderWidth: width,
    borderDash: dash,
    pointRadius: 0,
    order,
});

const profileDataset = (lengths, index) => ({
    type: 'bar',
    indexAxis: 'y',
    xAxisID: 'x',
    yAxisID: 'yPrice',
    grouped: false,
    barThickness: 11,
    borderWidth: 0,
    order: 20,
    data: lengths.map((length, row) => ({
        x: [profileStartBars[index], profileStartBars[index] + length],
        y: profileTopPrices[index] - row * 1.25,
    })),
    backgroundColor: lengths.map((length, row) => {
        const price = profileTopPrices[index] - row * 1.25;
        return price <= valueHighs[index] && price >= valueLows[index] ? '#7fa6ea' : '#b6c7e4';
    }),
});

// the fast line turns brown below the base line, split by a hard gradient stop
const gradients = {};
const erColor = (chart, color) => {
    if (!gradients[color]) {
        const scale = chart.scales.yER;
        const stop = scale.getPixelForValue(erBaseLine) / ER_BOTTOM;
        const gradient = chart.ctx.createLinearGradient(0, 0, 0, ER_BOTTOM);
        gradient.addColorStop(0, color);
        gradient.addColorStop(stop, color);
        gradient.addColorStop(stop, '#a0522d');
        gradient.addColorStop(1, '#a0522d');
        gradients[color] = gradient;
    }
    return gradients[color];
};

const datasets = [
    {
        type: 'line',
        label: 'swing',
        yAxisID: 'yPrice',
        data: swingBars.map((bar, i) => ({ x: bar, y: swingPrices[i] })),
        borderWidth: 3,
        pointRadius: 0,
        order: 1,
        segment: {
            borderColor: (ctx) => (ctx.p1.parsed.y > ctx.p0.parsed.y ? '#008000' : '#ff0000'),
        },
    },
    {
        type: 'line',
        label: 'kama',
        yAxisID: 'yPrice',
        data: maBars.map((bar, i) => ({ x: bar, y: kamaValues[i] })),
        borderColor: '#000080',
        borderWidth: 2,
        borderDash: [7, 2, 2, 2],
        tension: 0.3,
        pointRadius: 0,
        fill: { target: 2, above: 'rgba(170, 175, 80, 0.33)', below: 'rgba(225, 90, 70, 0.32)' },
        order: 2,
    },
    {
        type: 'line',
        label: 'ema',
        yAxisID: 'yPrice',
        data: maBars.map((bar, i) => ({ x: bar, y: emaValues[i] })),
        borderColor: '#3a9a9e',
        borderWidth: 2.5,
        tension: 0.3,
        pointRadius: 0,
        order: 3,
    },
    {
        type: 'bar',
        label: 'bodies',
        yAxisID: 'yPrice',
        grouped: false,
        barThickness: 12,
        data: candles.map((c) => ({ x: c[0], y: [c[1], c[4]] })),
        backgroundColor: candles.map((c) => {
            if (c[5] === 0) {
                return c[4] >= c[1] ? '#eeeeee' : '#808080';
            }
            return c[4] >= c[1] ? '#ffffff' : '#000000';
        }),
        borderColor: candles.map((c) => toneColors[c[5]]),
        borderWidth: 3.5,
        borderSkipped: false,
        order: 4,
    },
    {
        type: 'bar',
        label: 'wicks',
        yAxisID: 'yPrice',
        grouped: false,
        barThickness: 4,
        data: candles.map((c) => ({ x: c[0], y: [c[3], c[2]] })),
        backgroundColor: candles.map((c) => toneColors[c[5]]),
        borderWidth: 0,
        order: 5,
    },
    ...goldLevels.map((level) => levelDataset(level, '#ffd700', 3, [], 7)),
    ...brownLevels.map((level) => levelDataset(level, '#8b4513', 3, [], 7)),
    ...pocLevels.map((level, i) => levelDataset(level, '#daa520', i === 0 || i === 3 ? 3 : 2, [], 8)),
    ...valueLevels.map((level) => levelDataset(level, '#7f9df0', 1, [3, 2], 9)),
    ...pocThinLevels.map((level) => levelDataset(level, '#c9982e', 1, [3, 2], 9)),
    levelDataset([0, BAR_MAX, lastPrice], '#b8860b', 3.5, [4, 4], 6),
    profileDataset(thuProfile, 0),
    profileDataset(friProfile, 1),
    profileDataset(sunProfile, 2),
    profileDataset(tueProfile, 3),
    {
        type: 'line',
        label: 'base',
        yAxisID: 'yER',
        data: [{ x: 0, y: erBaseLine }, { x: BAR_MAX, y: erBaseLine }],
        borderColor: '#000000',
        borderWidth: 4,
        pointRadius: 0,
        order: 12,
    },
    {
        type: 'line',
        label: 'er slow',
        yAxisID: 'yER',
        data: erSlow.map((p) => ({ x: p[0], y: p[1] })),
        borderColor: '#000080',
        borderWidth: 2,
        borderDash: [5, 3],
        tension: 0.3,
        pointRadius: 0,
        order: 10,
    },
    {
        type: 'line',
        label: 'er fast',
        yAxisID: 'yER',
        data: erFast.map((p) => ({ x: p[0], y: p[1] })),
        borderWidth: 3,
        borderDash: [9, 4],
        pointRadius: 0,
        order: 11,
        segment: {
            borderColor: (ctx) => erColor(ctx.chart, isGreenBar(ctx.p1.parsed.x) ? '#008000' : '#ff0000'),
        },
    },
    {
        type: 'line',
        label: 'range ema',
        yAxisID: 'yRange',
        data: rangeEmaBars.map((bar, i) => ({ x: bar, y: rangeEmaValues[i] })),
        borderColor: '#2a9d8f',
        borderWidth: 3.5,
        pointRadius: 0,
        order: 13,
    },
    {
        type: 'scatter',
        label: 'bar range',
        yAxisID: 'yRange',
        data: [rangeThuFri, rangeFri, rangeSunMon, rangeTue, rangeTueLate].flatMap((list, n) =>
            list.map((value, i) => ({ x: rangeStartBars[n] + i, y: value }))
        ),
        backgroundColor: '#2b88d8',
        borderWidth: 0,
        pointStyle: 'rect',
        pointRadius: 5.6,
        showLine: false,
        order: 14,
    },
];

const fixedText = (ctx, text, x, y, font, color, align) => {
    ctx.font = font;
    ctx.fillStyle = color;
    ctx.textAlign = align || 'left';
    ctx.textBaseline = 'middle';
    ctx.fillText(text, x, y);
};

// pin the three stacked panels to their exact heights once layout is done
const panelPlugin = {
    id: 'panels',
    afterLayout(chart) {
        const place = (axis, top, bottom) => {
            axis.top = top;
            axis.bottom = bottom;
            axis.height = bottom - top;
            axis.configure();
        };
        const { scales, chartArea } = chart;
        chartArea.top = 0;
        chartArea.bottom = PLOT_BOTTOM;
        chartArea.height = PLOT_BOTTOM;
        place(scales.yER, 0, ER_BOTTOM);
        place(scales.yPrice, ER_BOTTOM, PRICE_BOTTOM);
        place(scales.yRange, PRICE_BOTTOM, PLOT_BOTTOM);
        place(scales.x, PLOT_BOTTOM, 2096);
    },
};

const sessionPlugin = {
    id: 'sessions',
    beforeDatasetsDraw(chart) {
        const { ctx, scales } = chart;
        ctx.save();
        ctx.fillStyle = 'rgba(110, 120, 125, 0.2)';
        sessionBandStarts.forEach((start, i) => {
            const left = scales.x.getPixelForValue(start);
            const right = scales.x.getPixelForValue(sessionBandEnds[i]);
            ctx.fillRect(left, 0, right - left, PLOT_BOTTOM);
        });
        ctx.strokeStyle = 'rgba(100, 110, 215, 0.6)';
        ctx.lineWidth = 1.5;
        sessionLines.forEach((bar) => {
            const x = scales.x.getPixelForValue(bar);
            ctx.beginPath();
            ctx.moveTo(x, 0);
            ctx.lineTo(x, 2034);
            ctx.stroke();
        });
        ctx.restore();
    },
};

const labelPlugin = {
    id: 'labels',
    afterDatasetsDraw(chart) {
        const { ctx, scales } = chart;
        const x = scales.x;
        const y = scales.yPrice;
        ctx.save();

        levelTexts.forEach(([bar, price, text]) => {
            ctx.textBaseline = 'bottom';
            ctx.font = '12px ' + SANS;
            ctx.fillStyle = '#8ca6ee';
            ctx.textAlign = 'right';
            ctx.fillText(text, x.getPixelForValue(bar), y.getPixelForValue(price) - 1);
        });
        pocTexts.forEach(([bar, price, text]) => {
            ctx.textBaseline = 'bottom';
            ctx.font = '12px ' + SANS;
            ctx.fillStyle = '#c9982e';
            ctx.textAlign = 'right';
            ctx.fillText(text, x.getPixelForValue(bar), y.getPixelForValue(price) - 1);
        });
        sigmaTexts.forEach(([bar, price, text]) => {
            fixedText(ctx, text, x.getPixelForValue(bar), y.getPixelForValue(price), '11px ' + SANS, '#2e7d32');
        });

        swingBars.forEach((bar, i) => {
            if (!swingTags[i]) {
                return;
            }
            const tag = swingTags[i];
            const color = tag === 'DT' ? '#ffd700' : tag === 'HH' || tag === 'HL' ? '#008000' : '#ff0000';
            const px = x.getPixelForValue(bar);
            const py = y.getPixelForValue(swingPrices[i]);
            const font = '16.5px ' + MONO;
            if (swingValues[i].startsWith('-')) {
                fixedText(ctx, swingValues[i], px, py + 14, font, color, 'center');
                fixedText(ctx, tag, px, py + 33, font, color, 'center');
            } else {
                fixedText(ctx, swingValues[i], px, py - 18, font, color, 'center');
                fixedText(ctx, tag, px, py - 37, font, color, 'center');
            }
        });

        fixedText(ctx, 'amaEfficiencyRatio(ES 03-26 (6000 Tick),Balanced,0.75,10,10)', 4, 18, '24px ' + SANS, '#102a30');
        const titleFont = 'bold 39px ' + SERIF;
        fixedText(ctx, 'Pacific Time, March 2026 Contract,', 8, 188, titleFont, '#000000');
        fixedText(ctx, 'ES', 8, 232, titleFont, '#000000');
        fixedText(ctx, '6000 Tick', 8, 276, titleFont, '#000000');
        fixedText(ctx, 'ama Moving Average Cross KAMA & EMA 21n,, Price Action Swing, Order Flow Volume Profile', 3706, 170, 'bold 24.5px ' + SERIF, '#000000', 'right');

        const dayFont = '32px ' + SERIF;
        fixedText(ctx, 'Thursday', 134, 1541, dayFont, '#111111');
        fixedText(ctx, '1/29/202', 134, 1575, dayFont, '#111111');
        fixedText(ctx, '6', 134, 1609, dayFont, '#111111');
        fixedText(ctx, 'Friday', 1153, 1541, dayFont, '#111111');
        fixedText(ctx, '1/30/202', 1153, 1575, dayFont, '#111111');
        fixedText(ctx, '6', 1153, 1609, dayFont, '#111111');
        fixedText(ctx, 'Sunday', 2151, 1541, dayFont, '#111111');
        fixedText(ctx, '2/1/2026', 2151, 1575, dayFont, '#111111');
        fixedText(ctx, 'Monday', 2280, 1541, dayFont, '#111111');
        fixedText(ctx, '2/2/2026', 2280, 1575, dayFont, '#111111');
        fixedText(ctx, 'Tuesday', 2955, 1541, dayFont, '#111111');
        fixedText(ctx, '2/3/2026', 2955, 1575, dayFont, '#111111');

        fixedText(ctx, 'Bar Range and 21n EMA  both in POINTS,', 8, 1732, 'bold 23px ' + SERIF, '#000000');
        fixedText(ctx, 'ATR: 22', 3618, 1729, '24px ' + SERIF, '#000000');
        fixedText(ctx, '© 2026 NinjaTrader, LLC', 4, 2018, '24px ' + SANS, '#102a30');
        fixedText(ctx, '4986  17', 3620, 1320, '21px ' + SANS, '#304048');
        ctx.restore();
    },
    afterDraw(chart) {
        const { ctx, scales } = chart;
        ctx.save();
        fixedText(ctx, 'ES 03-26 ES 03-26 6000 Tick', 4, 2087, '10px ' + SANS, '#5a6a70');
        fixedText(ctx, 'NINJATRADER', 3822, 2086, 'bold 16px ' + SANS, '#ee4a22', 'right');

        const drawTag = (value, fill, textColor, scale, digits) => {
            const y = scale.getPixelForValue(value);
            ctx.beginPath();
            ctx.moveTo(3713, y);
            ctx.lineTo(3719, y - 15);
            ctx.lineTo(3823, y - 15);
            ctx.lineTo(3823, y + 15);
            ctx.lineTo(3719, y + 15);
            ctx.closePath();
            ctx.fillStyle = fill;
            ctx.fill();
            fixedText(ctx, value.toFixed(digits), 3726, y + 1, '24px ' + SANS, textColor);
        };
        erTags.forEach((t) => drawTag(t[0], t[1], t[2], scales.yER, 2));
        priceTags.forEach((t) => drawTag(t[0], t[1], t[2], scales.yPrice, 2));
        rangeTags.forEach((t) => drawTag(t[0], t[1], t[2], scales.yRange, 2));
        ctx.restore();
    },
};

const rightAxis = (extra) => ({
    type: 'linear',
    position: 'right',
    stack: 'panels',
    offset: false,
    beginAtZero: false,
    border: { color: '#9fa8a8', width: 2 },
    afterFit: (axis) => {
        axis.width = 3823 - AXIS_X;
        // no room kept for half a label at the panel edges
        axis.paddingTop = 0;
        axis.paddingBottom = 0;
    },
    ...extra,
});

new Chart(document.getElementById('chart'), {
    type: 'scatter',
    data: { datasets },
    plugins: [panelPlugin, sessionPlugin, labelPlugin],
    options: {
        responsive: false,
        animation: false,
        devicePixelRatio: 1,
        parsing: true,
        layout: { padding: 0 },
        events: [],
        plugins: {
            legend: { display: false },
            tooltip: { enabled: false },
        },
        scales: {
            x: {
                type: 'linear',
                min: 0,
                max: BAR_MAX,
                offset: false,
                beginAtZero: false,
                grid: { drawOnChartArea: false, offset: false, tickColor: '#8a989c', tickLength: 6 },
                border: { color: '#c5c6bd', width: 3 },
                afterBuildTicks: (axis) => {
                    axis.ticks = xTickBars.map((value) => ({ value }));
                },
                afterFit: (axis) => {
                    axis.height = 2096 - PLOT_BOTTOM;
                    axis.paddingLeft = 0;
                    axis.paddingRight = 0;
                },
                ticks: {
                    autoSkip: false,
                    maxRotation: 0,
                    padding: 4,
                    color: '#102a30',
                    font: { family: SANS, size: 24 },
                    callback: (value, index) => xTickLabels[index],
                },
            },
            yER: rightAxis({
                stackWeight: ER_BOTTOM,
                weight: 1,
                min: -2.5,
                max: 97.2,
                grid: { color: '#a7b1b3', lineWidth: 2, drawTicks: false },
                afterBuildTicks: (axis) => {
                    axis.ticks = [{ value: 3 }];
                },
                ticks: { autoSkip: false, callback: () => '' },
            }),
            yPrice: rightAxis({
                stackWeight: PRICE_BOTTOM - ER_BOTTOM,
                weight: 2,
                min: 6900 - (PRICE_BOTTOM - 1380) / 8,
                max: 6900 + (1380 - ER_BOTTOM) / 8,
                grid: {
                    offset: false,
                    tickLength: 6,
                    color: (ctx) => {
                        if (!priceGrid.includes(ctx.tick.value)) {
                            return 'rgba(0, 0, 0, 0)';
                        }
                        return ctx.tick.value > 6995 ? '#bdc2bc' : '#7b8f97';
                    },
                    lineWidth: (ctx) => (ctx.tick.value > 6995 ? 2.5 : 1.5),
                    tickColor: (ctx) => (priceLabels.includes(ctx.tick.value) ? '#8a989c' : 'rgba(0, 0, 0, 0)'),
                },
                afterBuildTicks: (axis) => {
                    axis.ticks = [...priceGrid, ...priceLabels].sort((a, b) => a - b).map((value) => ({ value }));
                },
                ticks: {
                    autoSkip: false,
                    padding: 2,
                    color: '#102a30',
                    font: { family: SANS, size: 24 },
                    callback: (value) => (priceLabels.includes(value) ? value.toFixed(2) : ''),
                },
            }),
            yRange: rightAxis({
                stackWeight: PLOT_BOTTOM - PRICE_BOTTOM,
                weight: 3,
                min: 0,
                max: (PLOT_BOTTOM - PRICE_BOTTOM) / 9,
                grid: {
                    tickLength: 6,
                    color: (ctx) => (rangeGrid.includes(ctx.tick.value) ? '#93a3a8' : 'rgba(0, 0, 0, 0)'),
                    lineWidth: 2,
                    tickColor: '#8a989c',
                },
                afterBuildTicks: (axis) => {
                    axis.ticks = [...rangeLabels].reverse().map((value) => ({ value }));
                },
                ticks: {
                    autoSkip: false,
                    padding: 2,
                    color: '#102a30',
                    font: { family: SANS, size: 24 },
                    callback: (value) => String(value),
                },
            }),
        },
    },
});
</script>
</body>
</html>
